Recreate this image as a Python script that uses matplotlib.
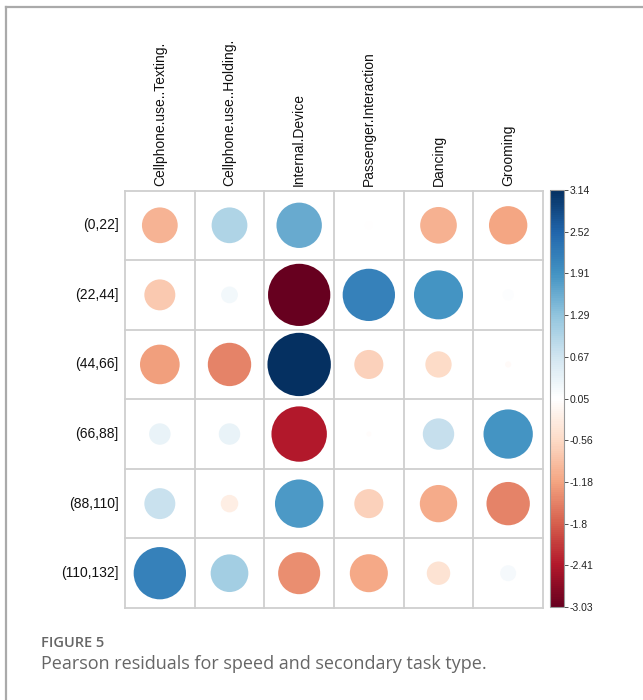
import numpy as np
import matplotlib
matplotlib.use("Agg")
import matplotlib.pyplot as plt
from matplotlib.patches import Circle
from matplotlib.colors import LinearSegmentedColormap, Normalize
from matplotlib.lines import Line2D
import matplotlib as mpl

rows = ["(0,22]", "(22,44]", "(44,66]", "(66,88]", "(88,110]", "(110,132]"]
cols = ["Cellphone.use..Texting.", "Cellphone.use..Holding.", "Internal.Device",
        "Passenger.Interaction", "Dancing", "Grooming"]

r_0_22 = [-1.00, 1.00, 1.61, 0.05, -1.05, -1.15]
r_22_44 = [-0.75, 0.22, -3.03, 2.14, 1.88, 0.10]
r_44_66 = [-1.23, -1.47, 3.14, -0.66, -0.54, -0.03]
r_66_88 = [0.36, 0.36, -2.40, 0.02, 0.77, 1.90]
r_88_110 = [0.75, -0.24, 1.83, -0.66, -1.09, -1.47]
r_110_132 = [2.14, 1.11, -1.38, -1.13, -0.43, 0.20]

cbar_ticks = [-3.03, -2.41, -1.8, -1.18, -0.56, 0.05, 0.67, 1.29, 1.91, 2.52, 3.14]
cbar_labels = ["-3.03", "-2.41", "-1.8", "-1.18", "-0.56", "0.05", "0.67", "1.29", "1.91", "2.52", "3.14"]

data = np.array([r_0_22, r_22_44, r_44_66, r_66_88, r_88_110, r_110_132])
vmin, vmax = -3.03, 3.14

cmap = LinearSegmentedColormap.from_list("corrRdBu", [
    "#67001F", "#B2182B", "#D6604D", "#F4A582", "#FDDBC7", "#FFFFFF",
    "#D1E5F0", "#92C5DE", "#4393C3", "#2166AC", "#053061"], N=200)
norm = Normalize(vmin, vmax)

W, H = 643, 700
fig = plt.figure(figsize=(W / 100, H / 100), dpi=100)
fig.patch.set_facecolor("white")

font = "Liberation Sans"

gx0, gx1, gy0, gy1 = 125, 543, 190.5, 608
ax = fig.add_axes([gx0 / W, 1 - gy1 / H, (gx1 - gx0) / W, (gy1 - gy0) / H])
ax.set_xlim(0, 6)
ax.set_ylim(6, 0)
ax.set_axis_off()

maxabs = np.abs(data).max()
nr, nc = data.shape
for i in range(nr):
    for j in range(nc):
        v = data[i, j]
        r = 0.455 * np.sqrt(abs(v) / maxabs)
        ax.add_patch(Circle((j + 0.5, i + 0.5), r, facecolor=cmap(norm(v)),
                            edgecolor="none", zorder=2))

for k in range(nc + 1):
    ax.plot([k, k], [0, 6], color="#cfcfcf", lw=1.3, zorder=1, clip_on=False)
for k in range(nr + 1):
    ax.plot([0, 6], [k, k], color="#cfcfcf", lw=1.3, zorder=1, clip_on=False)

for j, c in enumerate(cols):
    ax.text(j + 0.5, -0.07, c, rotation=90, ha="center", va="bottom",
            fontsize=10, family=font, color="#111111")
for i, rl in enumerate(rows):
    ax.text(-0.09, i + 0.5, rl, ha="right", va="center",
            fontsize=10, family=font, color="#111111")

# colorbar
cax = fig.add_axes([550 / W, 1 - 607 / H, 14 / W, (607 - 190) / H])
cb = mpl.colorbar.ColorbarBase(cax, cmap=cmap, norm=norm, orientation="vertical")
cb.set_ticks(cbar_ticks)
cb.set_ticklabels(cbar_labels)
cb.outline.set_edgecolor("#999999")
cb.outline.set_linewidth(0.8)
cax.tick_params(axis="y", length=3, width=0.6, color="#333333", pad=1,
                labelsize=7.5, labelcolor="#222222")
for t in cax.get_yticklabels():
    t.set_family(font)

# page frame
fig.add_artist(Line2D([6 / W, 1], [1 - 7 / H, 1 - 7 / H], color="#aaaaaa", lw=1.6))
fig.add_artist(Line2D([6 / W, 6 / W], [0, 1 - 7 / H], color="#aaaaaa", lw=1.6))

# caption
fig.text(41 / W, 1 - 647 / H, "FIGURE 5", fontsize=10.5, family="Open Sans",
         color="#666666", weight="semibold", va="baseline")
fig.text(41 / W, 1 - 669 / H, "Pearson residuals for speed and secondary task type.",
         fontsize=13, family="Open Sans", color="#666666", va="baseline")

fig.savefig("out.png", dpi=100, facecolor="white")
